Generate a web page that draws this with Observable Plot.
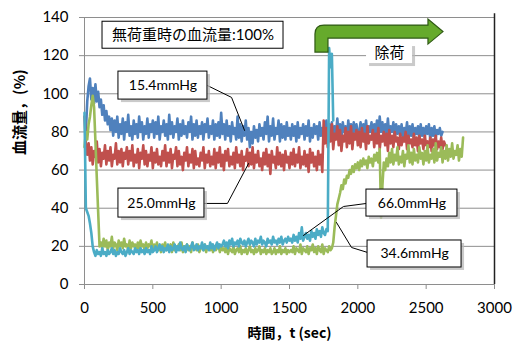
<!DOCTYPE html>
<html>
<head>
<meta charset="utf-8">
<script src="https://cdn.jsdelivr.net/npm/d3@7"></script>
<script src="https://cdn.jsdelivr.net/npm/@observablehq/plot@0.6"></script>
<style>
  html, body { margin: 0; padding: 0; background: #fff; }
</style>
</head>
<body>
<div id="chart"></div>
<script>
// Recording interval of the blood-flow traces (sec)
const STEP = 10;

// 15.4 mmHg — blood flow (%), sampled every STEP sec from t = 10 s
const blueStart = 10;
const flow154 = [
  80, 96, 104, 108, 97, 103, 95, 105, 96, 101, 93, 97, 89, 94, 86, 91, 84, 88, 81, 87,
  78, 86, 80, 88, 77, 84, 79, 87, 76, 85, 80, 89, 78, 83, 76, 86, 79, 84, 77, 88, 80, 85, 76, 83, 79, 87, 77, 84, 80, 86,
  77, 85, 79, 88, 76, 83, 80, 86, 78, 84, 76, 89, 79, 85, 77, 83, 80, 87, 76, 84, 78, 86, 79, 83, 77, 85, 80, 88, 76, 84,
  78, 86, 77, 83, 79, 85, 76, 84, 80, 87, 77, 83, 79, 86, 76, 84, 78, 85, 77, 90,
  79, 84, 76, 86, 78, 83, 75, 85, 79, 82, 76, 88, 77, 84, 75, 83, 78, 86, 76, 82, 72, 80, 74, 83, 77, 81, 75, 84, 78, 82,
  76, 85, 79, 88, 75, 83, 78, 87, 76, 82, 79, 86, 75, 84, 77, 83, 76, 85, 78, 82,
  76, 84, 78, 83, 75, 85, 77, 82, 79, 84, 76, 83, 78, 86, 75, 82, 77, 84, 79, 83, 76, 85, 78, 82, 77,
  79, 86, 77, 84, 80, 85, 76, 83, 79, 87, 78, 84, 77, 85, 80, 83, 76, 86, 79, 84, 77, 85, 80, 84, 78,
  80, 85, 77, 84, 79, 86, 78, 83, 80, 85, 77, 84, 79, 86, 78, 88, 80, 85, 77, 84, 79, 87, 78, 83, 80, 85, 77, 84, 79, 83,
  78, 84, 77, 82, 79, 85, 76, 83, 78, 84, 77, 82, 79, 83, 76, 84, 78, 82, 77, 83, 79, 84, 76, 82, 78, 83, 77, 81, 79, 82, 78, 80
];

// 25.0 mmHg — from t = 0 s
const redStart = 0;
const flow250 = [
  88, 74,
  68, 74, 65, 72, 63, 70, 67, 75, 64, 71, 62, 69, 66, 73, 63, 70, 65, 72, 62, 68, 66, 74, 63, 70, 64, 71, 62, 69, 66,
  72, 63, 70, 65, 73, 62, 68, 64, 71, 61, 69, 66, 73, 63, 70, 62, 68, 65, 72, 61, 69, 64, 71, 63, 67, 62, 70, 65, 73, 62,
  69, 64, 71, 61, 68, 66, 72, 62, 70, 63, 67, 60, 69, 65, 72, 62, 68, 64, 71, 61, 70, 63, 66, 62, 69, 65, 72, 61, 68, 64,
  70, 62, 67, 63, 71, 61, 69, 64, 72, 62, 68, 60, 70, 65, 71, 62, 67, 63, 69, 61, 72, 64, 68, 62, 70, 60, 67, 65, 71, 62,
  69, 63, 72, 61, 68, 64, 70, 62, 66, 60, 69, 63, 71, 62, 68, 58, 70, 64, 67, 61, 72, 63, 69, 62, 68, 60, 70, 64, 67, 61,
  69, 63, 71, 62, 68, 64, 72, 61, 67, 63, 70, 62, 68, 59, 71, 64, 69, 62, 67, 60, 70, 63, 68, 59,
  86, 74, 82, 72, 80, 75, 84, 71, 79, 76, 83, 73, 81, 70, 78, 75, 82, 72, 80, 74, 83, 71, 79, 76, 81, 73,
  80, 72, 82, 75, 79, 71, 83, 74, 78, 76, 81, 72, 79, 74, 82, 71, 78, 75, 80, 73, 79, 70, 81, 74, 78, 72, 80, 75, 77, 71,
  79, 73, 77, 75, 80, 71, 78, 74, 76, 72, 79, 73, 77, 70, 78, 74, 76, 71, 78, 73, 75, 72, 77, 70, 76, 73, 78, 71, 75, 72, 77, 71, 75, 73
];

// 34.6 mmHg — from t = 0 s
const greenStart = 0;
const flow346 = [
  72, 80, 76, 84, 88, 94, 99,
  93, 75, 56, 38, 20,
  22, 19, 24, 20, 23, 18, 22, 20, 25, 19, 22, 21, 18, 23, 20, 22, 19, 24, 20, 21, 18, 23, 19, 22, 20, 21, 18, 22, 19, 23, 20, 21, 18, 22, 19, 21, 20, 23, 18,
  21, 19, 22, 18, 20, 17, 21, 19, 22, 18, 20, 19, 21, 17, 22, 18, 20, 19, 21, 18, 22, 17, 20, 19, 21, 18, 20, 17, 22, 19,
  20, 18, 21, 17, 19, 20, 18, 21, 17, 20, 19, 18, 21, 17, 20, 18, 19, 21, 17, 20,
  18, 19, 17, 20, 16, 19, 18, 17, 20, 16, 18, 19, 17, 20, 16, 18, 17, 19, 16, 18, 20, 17, 18, 16, 19, 17, 18, 20, 16, 18,
  17, 19, 16, 18, 17, 19, 16, 17, 19, 16, 18, 17, 20, 16, 18, 17, 19, 16, 18, 17,
  18, 17, 20, 16, 19, 18, 17, 21, 16, 19, 18, 17, 20, 16, 19, 18, 21, 17, 19, 16, 20, 18, 17, 21, 16, 19, 18, 17, 20, 18,
  19, 22, 30, 36, 42, 45, 48, 52, 50, 55, 53, 57, 56, 60, 58, 62, 59, 63, 61, 64, 60, 65, 62, 66, 63, 65, 61, 67, 64, 66, 62, 68, 65, 69, 64, 71,
  35, 52, 64, 60,
  66, 62, 69, 64, 71, 63, 68, 65, 72, 63, 67, 64, 70, 62, 68, 66, 73, 64, 69, 63, 71, 65, 68, 64, 72, 66, 69, 63, 70, 65,
  73, 64, 68, 66, 71, 64, 74, 65, 69, 67, 72, 64, 70, 66, 73, 65, 71, 67, 74, 66, 70, 68, 73, 65, 71, 67,
  77
];

// 66.0 mmHg — from t = 0 s
const cyanStart = 0;
const flow660 = [
  90, 40, 38, 36, 32, 27, 20,
  17, 15, 18, 16, 17, 15, 19, 16, 17, 15, 18, 16, 17, 19, 16, 18, 15, 17, 16, 19, 17, 16, 18, 15, 17, 19, 16, 18, 17, 16,
  19, 17, 18, 16, 19, 17, 18, 16, 19, 17, 18, 16, 20, 17,
  18, 20, 17, 19, 21, 18, 20, 17, 19, 18, 21, 17, 20, 18, 19, 21, 17, 20, 18, 22, 19, 18, 20, 17, 21, 19, 18, 20, 22, 18,
  19, 21, 18, 20, 19, 22, 18, 21, 19, 20, 18, 22, 19, 21, 18, 20, 22, 19, 21, 20,
  21, 23, 20, 22, 19, 23, 21, 24, 20, 22, 21, 23, 20, 24, 22, 21, 23, 20, 22, 24, 21, 23, 22, 20, 24, 21, 23, 22, 25, 21,
  23, 22, 20, 24, 22, 23, 21, 25, 22, 23, 21, 24, 22, 25, 21, 23, 24, 22, 25, 23,
  24, 22, 26, 23, 25, 22, 27, 24, 30, 23, 25, 27, 24, 26, 23, 28, 25, 27, 24, 29, 26, 28, 25, 30, 27, 26, 29, 28,
  124, 114, 121, 86
];

const seriesNames = ["15.4mmHg", "25.0mmHg", "34.6mmHg", "66.0mmHg"];
const seriesColors = ["#4F81BD", "#C0504D", "#9BBB59", "#4BACC6"];
const xTicks = [0, 500, 1000, 1500, 2000, 2500, 3000];
const yTicks = [0, 20, 40, 60, 80, 100, 120, 140];
const xTitle = "時間，t (sec)";
const yTitle = "血流量，(%)";
const noteText = "無荷重時の血流量:100%";
const unloadText = "除荷";

// Long-format table for the line mark
const traces = [
  [seriesNames[0], blueStart, flow154],
  [seriesNames[1], redStart, flow250],
  [seriesNames[2], greenStart, flow346],
  [seriesNames[3], cyanStart, flow660]
];
const rows = traces.flatMap(([name, start, values]) =>
  values.map((v, i) => ({name, t: start + i * STEP, v})));

// Callout layout: box centre in data units, box size in px
const callouts = [
  {text: noteText, t: 794, v: 130.7, w: 181, h: 27, size: 15, border: true, shadow: false},
  {text: seriesNames[0], t: 574, v: 104.3, w: 89, h: 28, size: 14, border: true, shadow: true},
  {text: seriesNames[1], t: 563, v: 42.7, w: 86, h: 29, size: 14, border: true, shadow: true},
  {text: seriesNames[3], t: 2396, v: 42.7, w: 91, h: 27, size: 14, border: true, shadow: true},
  {text: seriesNames[2], t: 2415, v: 16.0, w: 94, h: 27, size: 14, border: true, shadow: true},
  {text: unloadText, t: 2232, v: 121.1, w: 46, h: 20, size: 15, border: false, shadow: true}
];

// Leader lines from each label to its trace (data units)
const leaders = [
  {id: "a", pts: [[900, 104.3], [1076, 98.1], [1171, 80.8]]},
  {id: "b", pts: [[878, 42.5], [1046, 42.5], [1200, 63.4]]},
  {id: "c", pts: [[2063, 42.5], [1895, 40.9], [1602, 25.7]]},
  {id: "d", pts: [[2071, 16.8], [1954, 19.4], [1844, 32.5]]}
];
const leaderRows = leaders.flatMap(({id, pts}) => pts.map(([t, v]) => ({id, t, v})));

// Bent "unloading" arrow, anchored at the bottom-left of its stem
const arrowAnchor = {t: 1690, v: 121.6};

function calloutBoxes(index, {x, y}) {
  const g = d3.create("svg:g");
  for (const c of callouts) {
    const left = x(c.t) - c.w / 2, top = y(c.v) - c.h / 2;
    if (c.shadow) {
      g.append("rect").attr("x", left + 3).attr("y", top + 3)
        .attr("width", c.w).attr("height", c.h)
        .attr("fill", "#b8b8b8").attr("opacity", 0.75);
    }
    g.append("rect").attr("x", left).attr("y", top)
      .attr("width", c.w).attr("height", c.h)
      .attr("fill", "#fff")
      .attr("stroke", c.border ? "#000" : "none").attr("stroke-width", 1);
  }
  return g.node();
}

function unloadArrow(index, {x, y}) {
  const x0 = x(arrowAnchor.t), y0 = y(arrowAnchor.v);
  const path = "M0,0 L0,-18 Q0,-27 9,-27 L113,-27 L113,-33 L128,-20.5 L113,-8 L113,-14 L13,-14 L13,0 Z";
  return d3.create("svg:path")
    .attr("transform", `translate(${x0},${y0})`)
    .attr("d", path)
    .attr("fill", "#66aa2c")
    .attr("stroke", "#2f5a14")
    .attr("stroke-width", 1.2)
    .attr("stroke-linejoin", "miter")
    .node();
}

const cjk = "'Noto Sans CJK JP', sans-serif";

const chart = Plot.plot({
  width: 517,
  height: 347,
  marginLeft: 84,
  marginRight: 23,
  marginTop: 17,
  marginBottom: 63,
  style: {fontFamily: "Lato, 'Noto Sans CJK JP', sans-serif", fontSize: "15px", color: "#000", background: "#fff", overflow: "visible"},
  x: {domain: [0, 3000]},
  y: {domain: [0, 140]},
  color: {domain: seriesNames, range: seriesColors},
  marks: [
    Plot.gridY(yTicks.filter(d => d > 0), {stroke: "#8e8e8e", strokeOpacity: 1}),
    Plot.axisY(yTicks, {tickSize: 5, tickPadding: 11, stroke: "#8e8e8e", label: null, fontSize: 15, tickFormat: d => String(d)}),
    Plot.axisX(xTicks, {tickSize: 5, tickPadding: 13, stroke: "#8e8e8e", label: null, fontSize: 15, tickFormat: d => String(d)}),
    Plot.ruleX([0], {stroke: "#8e8e8e"}),
    Plot.ruleY([0], {stroke: "#8e8e8e"}),
    Plot.ruleX([3000], {y1: 0, y2: 142, stroke: "#222", strokeWidth: 1.5}),
    Plot.line(rows, {x: "t", y: "v", z: "name", stroke: "name", strokeWidth: 2.6, strokeLinejoin: "round"}),
    Plot.line(leaderRows, {x: "t", y: "v", z: "id", stroke: "#000", strokeWidth: 1}),
    calloutBoxes,
    Plot.text(callouts, {x: "t", y: "v", text: "text", fontSize: d => d.size, fill: "#000"}),
    unloadArrow,
    Plot.text([xTitle], {text: d => d, frameAnchor: "bottom", dy: 53, fontSize: 14, fontWeight: "bold", fontFamily: cjk}),
    Plot.text([yTitle], {text: d => d, frameAnchor: "left", dx: -64, dy: 4, rotate: -90, fontSize: 15, fontWeight: "bold", fontFamily: cjk})
  ]
});

document.getElementById("chart").appendChild(chart);
</script>
</body>
</html>
